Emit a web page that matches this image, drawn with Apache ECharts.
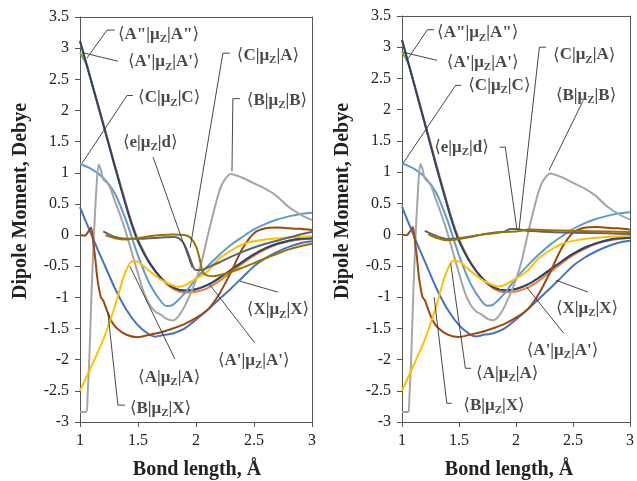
<!DOCTYPE html>
<html><head><meta charset="utf-8">
<script src="https://cdn.jsdelivr.net/npm/echarts@6/dist/echarts.min.js"></script>
<style>html,body{margin:0;padding:0;background:#fff}#c{width:637px;height:481px}</style>
</head><body><div id="c"></div>
<script>
// ---------- tick labels ----------
const xTicks = [1, 1.5, 2, 2.5, 3];
const yTicks = [-3, -2.5, -2, -1.5, -1, -0.5, 0, 0.5, 1, 1.5, 2, 2.5, 3, 3.5];

// ---------- curves shared by both panels ([bond length, dipole]) ----------
const curveXX = [[1.0,0.45],[1.05,0.22],[1.1,0.0],[1.15,-0.22],[1.2,-0.43],[1.3,-0.85],[1.4,-1.2],[1.5,-1.45],[1.6,-1.6],[1.65,-1.63],[1.7,-1.61],[1.8,-1.58],[1.9,-1.5],[2.0,-1.36],[2.1,-1.2],[2.2,-1.03],[2.3,-0.86],[2.4,-0.68],[2.5,-0.5],[2.6,-0.37],[2.7,-0.27],[2.8,-0.19],[2.9,-0.13],[3.0,-0.1]];
const curveApAp2 = [[1.0,3.1],[1.1,2.46],[1.2,1.8],[1.3,1.13],[1.4,0.48],[1.45,0.18],[1.5,-0.07],[1.6,-0.44],[1.7,-0.7],[1.8,-0.86],[1.9,-0.92],[2.0,-0.91],[2.1,-0.85],[2.2,-0.74],[2.3,-0.6],[2.4,-0.46],[2.5,-0.33],[2.6,-0.23],[2.7,-0.15],[2.8,-0.1],[2.9,-0.07],[3.0,-0.05]];
const curveBB = [[1.0,-2.84],[1.055,-2.84],[1.065,-2.6],[1.08,-2.0],[1.1,-0.9],[1.12,0.0],[1.14,0.7],[1.16,1.13],[1.18,1.05],[1.2,0.9],[1.25,0.8],[1.3,0.55],[1.35,0.3],[1.4,0.02],[1.45,-0.3],[1.5,-0.62],[1.55,-0.92],[1.6,-1.12],[1.65,-1.23],[1.7,-1.28],[1.75,-1.35],[1.8,-1.37],[1.85,-1.3],[1.9,-1.15],[1.95,-0.95],[2.0,-0.72],[2.05,-0.42],[2.1,-0.02],[2.16,0.43],[2.22,0.8],[2.3,0.98],[2.4,0.92],[2.5,0.83],[2.6,0.74],[2.7,0.62],[2.8,0.45],[2.9,0.33],[3.0,0.24]];
const curveAA = [[1.0,-2.5],[1.1,-2.1],[1.2,-1.68],[1.3,-1.15],[1.38,-0.65],[1.45,-0.42],[1.5,-0.43],[1.6,-0.58],[1.7,-0.72],[1.8,-0.81],[1.85,-0.83],[1.9,-0.81],[2.0,-0.7],[2.05,-0.65],[2.1,-0.58],[2.2,-0.38],[2.3,-0.25],[2.4,-0.15],[2.5,-0.1],[2.6,-0.07],[2.8,-0.04],[3.0,-0.02]];
const curveCC = [[1.0,1.14],[1.1,1.06],[1.2,0.92],[1.3,0.67],[1.4,0.22],[1.5,-0.33],[1.6,-0.78],[1.7,-1.07],[1.75,-1.14],[1.8,-1.12],[1.9,-0.94],[2.0,-0.7],[2.1,-0.5],[2.2,-0.32],[2.3,-0.16],[2.4,-0.03],[2.5,0.09],[2.6,0.18],[2.7,0.25],[2.8,0.3],[2.9,0.34],[3.0,0.36]];
const curveApAp1 = [[1.0,2.93],[1.03,2.83],[1.06,2.72],[1.1,2.45],[1.2,1.78],[1.3,1.1],[1.4,0.45],[1.45,0.15],[1.5,-0.1],[1.6,-0.45],[1.7,-0.69],[1.8,-0.84],[1.9,-0.89],[2.0,-0.87],[2.1,-0.8],[2.2,-0.69],[2.3,-0.56],[2.4,-0.43],[2.5,-0.31],[2.6,-0.21],[2.7,-0.14],[2.8,-0.09],[2.9,-0.06],[3.0,-0.05]];
const curveAppApp = [[1.0,3.12],[1.1,2.45],[1.2,1.78],[1.3,1.1],[1.4,0.45],[1.45,0.15],[1.5,-0.1],[1.6,-0.45],[1.7,-0.69],[1.8,-0.84],[1.9,-0.89],[2.0,-0.87],[2.1,-0.8],[2.2,-0.69],[2.3,-0.56],[2.4,-0.43],[2.5,-0.31],[2.6,-0.21],[2.7,-0.14],[2.8,-0.09],[2.9,-0.06],[3.0,-0.05]];
const curveBX = [[1.0,0.0],[1.04,-0.01],[1.07,0.05],[1.095,0.12],[1.11,-0.05],[1.13,-0.35],[1.15,-0.7],[1.18,-1.0],[1.2,-1.05],[1.23,-1.2],[1.27,-1.38],[1.32,-1.5],[1.4,-1.6],[1.5,-1.64],[1.6,-1.6],[1.7,-1.56],[1.8,-1.5],[1.9,-1.43],[2.0,-1.33],[2.1,-1.2],[2.2,-0.95],[2.3,-0.6],[2.4,-0.22],[2.5,0.03],[2.6,0.11],[2.7,0.12],[2.8,0.11],[2.9,0.1],[3.0,0.08]];

// ---------- curves that differ between panels ----------
const curveCA_left = [[1.2,0.06],[1.3,-0.03],[1.4,-0.06],[1.5,-0.06],[1.6,-0.05],[1.7,-0.04],[1.8,-0.03],[1.85,-0.05],[1.9,-0.15],[1.95,-0.38],[1.98,-0.53],[2.0,-0.56],[2.05,-0.56],[2.1,-0.52],[2.2,-0.44],[2.3,-0.35],[2.4,-0.27],[2.5,-0.2],[2.6,-0.14],[2.7,-0.09],[2.8,-0.04],[2.9,0.01],[3.0,0.05]];
const curveED_left = [[1.22,0.0],[1.3,-0.05],[1.4,-0.07],[1.5,-0.05],[1.6,-0.02],[1.7,0.0],[1.8,0.01],[1.9,0.0],[1.95,-0.04],[2.0,-0.18],[2.03,-0.37],[2.06,-0.6],[2.1,-0.65],[2.15,-0.66],[2.25,-0.62],[2.35,-0.56],[2.5,-0.45],[2.6,-0.37],[2.7,-0.3],[2.8,-0.23],[2.9,-0.18],[3.0,-0.14]];
const curveCA_right = [[1.2,0.06],[1.3,-0.02],[1.4,-0.07],[1.5,-0.06],[1.6,-0.03],[1.7,0.0],[1.8,0.03],[1.9,0.05],[1.95,0.09],[2.0,0.09],[2.05,0.08],[2.1,0.06],[2.3,0.04],[2.5,0.03],[2.8,0.02],[3.0,0.01]];
const curveED_right = [[1.23,0.01],[1.3,-0.05],[1.4,-0.09],[1.5,-0.07],[1.6,-0.04],[1.7,0.0],[1.8,0.02],[1.9,0.04],[2.0,0.05],[2.05,0.06],[2.1,0.08],[2.3,0.07],[2.5,0.06],[2.8,0.05],[3.0,0.04]];

// ---------- label texts (bra, ket) ----------
const labelKets = [['A"','A"'],["A'","A'"],['C','C'],['e','d'],['C','A'],['B','B'],['X','X'],["A'","A'"],['A','A'],['B','X']];
// label anchors (left-middle of text), data coordinates
const labelPosLeft  = [[1.327,3.22],[1.413,2.78],[1.50,2.20],[1.37,1.49],[2.352,2.885],[2.438,2.16],[2.438,-1.2],[2.189,-2.01],[1.50,-2.28],[1.43,-2.78]];
const labelPosRight = [[1.308,3.23],[1.393,2.76],[1.581,2.39],[1.282,1.40],[2.325,2.875],[2.35,2.23],[2.35,-1.18],[2.094,-1.85],[1.65,-2.22],[1.538,-2.73]];
// leader line paths, data coordinates
const leaderLeft = [
  [[1.06,2.84],[1.233,3.29],[1.30,3.29]],
  [[1.017,2.93],[1.327,2.79]],
  [[1.017,1.15],[1.405,2.24],[1.456,2.24]],
  [[1.63,1.25],[1.965,-0.52]],
  [[1.95,-0.2],[2.232,2.92],[2.292,2.92]],
  [[2.31,1.02],[2.318,2.19],[2.378,2.19]],
  [[2.705,-0.915],[2.378,-0.74]],
  [[2.507,-1.73],[2.12,-0.8]],
  [[1.818,-1.99],[1.43,-0.5]],
  [[1.24,-1.24],[1.327,-2.73],[1.388,-2.73]]
];
const leaderRight = [
  [[1.043,2.79],[1.222,3.28],[1.282,3.28]],
  [[1.009,2.92],[1.308,2.79]],
  [[1.009,1.14],[1.47,2.39],[1.52,2.39]],
  [[1.855,1.40],[1.906,1.40],[2.009,0.07]],
  [[2.026,0.07],[2.205,3.0],[2.265,3.0]],
  [[2.29,1.03],[2.59,2.15]],
  [[2.632,-0.92],[2.35,-0.73]],
  [[2.419,-1.58],[2.094,-0.84]],
  [[1.427,-0.46],[1.556,-2.14],[1.607,-2.14]],
  [[1.282,-1.0],[1.393,-2.7],[1.436,-2.7]]
];

const SERIF = '"Liberation Serif","DejaVu Serif",serif';
const colors = {XX:'#4472C4', ApAp2:'#ED7D31', BB:'#A5A5A5', AA:'#FFC000', CC:'#5B9BD5', ApAp1:'#70AD47', AppApp:'#264478', BX:'#9E480E', CA:'#636363', ED:'#997300'};

function fmtLabel(k){
  return '{br|\u27E8}{b|' + k[0] + '|\u03BC}{s|Z}{b||' + k[1] + '}{br|\u27E9}';
}
const rich = {
  b:{fontFamily:SERIF, fontWeight:'bold', fontSize:17, color:'#1a1a1a', lineHeight:21},
  br:{fontFamily:SERIF, fontWeight:'normal', fontSize:17, color:'#1a1a1a', lineHeight:21},
  s:{fontFamily:SERIF, fontWeight:'bold', fontSize:11, color:'#1a1a1a', lineHeight:12, verticalAlign:'bottom'}
};

function panelSeries(idx, caCurve, edCurve, pos, leaders){
  const list = [];
  const curves = [
    ['ApAp1', curveApAp1], ['ApAp2', curveApAp2], ['AppApp', curveAppApp],
    ['CC', curveCC], ['BB', curveBB], ['XX', curveXX], ['BX', curveBX],
    ['AA', curveAA], ['CA', caCurve], ['ED', edCurve]
  ];
  curves.forEach(([k, d]) => {
    list.push({type:'line', xAxisIndex:idx, yAxisIndex:idx, data:d, showSymbol:false, symbol:'none',
      smooth:0.25, lineStyle:{color:colors[k], width:2}, silent:true, z:2});
  });
  leaders.forEach(p => {
    list.push({type:'line', xAxisIndex:idx, yAxisIndex:idx, data:p, symbol:'none', silent:true,
      lineStyle:{color:'#333', width:0.9}, z:3});
  });
  list.push({type:'scatter', xAxisIndex:idx, yAxisIndex:idx, symbolSize:0, silent:true, z:4,
    data: pos.map((p,i) => ({value:p, label:{show:true, position:'right', distance:0, formatter:fmtLabel(labelKets[i]), rich:rich}}))});
  return list;
}

function lab(arr){ return v => { const t = arr.find(a => Math.abs(a-v)<1e-9); return t===undefined?'':String(t);}; }
function xAx(g){
  return {type:'value', gridIndex:g, min:1, max:3, interval:0.5,
    axisLine:{show:true, onZero:false, lineStyle:{color:'#555', width:1}},
    axisTick:{show:true, length:5, lineStyle:{color:'#555'}},
    splitLine:{show:false},
    axisLabel:{fontFamily:SERIF, fontSize:16, color:'#222', margin:11, formatter:lab(xTicks)}};
}
function yAx(g){
  return {type:'value', gridIndex:g, min:-3, max:3.5, interval:0.5,
    axisLine:{show:true, onZero:false, lineStyle:{color:'#555', width:1}},
    axisTick:{show:true, length:5, lineStyle:{color:'#555'}},
    splitLine:{show:false},
    axisLabel:{fontFamily:SERIF, fontSize:16, color:'#222', margin:11, formatter:lab(yTicks)}};
}
function frameX(g){ return {type:'value', gridIndex:g, min:1, max:3, position:'top', axisLine:{show:true, onZero:false, lineStyle:{color:'#555'}}, axisTick:{show:false}, axisLabel:{show:false}, splitLine:{show:false}}; }
function frameY(g){ return {type:'value', gridIndex:g, min:-3, max:3.5, position:'right', axisLine:{show:true, onZero:false, lineStyle:{color:'#555'}}, axisTick:{show:false}, axisLabel:{show:false}, splitLine:{show:false}}; }

const chart = echarts.init(document.getElementById('c'), null, {renderer:'canvas'});
const titleStyle = {fontFamily:SERIF, fontWeight:'bold', fontSize:20, fill:'#222', textAlign:'center', textVerticalAlign:'middle'};
chart.setOption({
  animation:false,
  backgroundColor:'#fff',
  grid:[
    {left:80, right:325, top:17, bottom:59},
    {left:402, right:1, top:16, bottom:59}
  ],
  xAxis:[xAx(0), xAx(1), frameX(0), frameX(1)],
  yAxis:[yAx(0), yAx(1), frameY(0), frameY(1)],
  series:[].concat(
    panelSeries(0, curveCA_left, curveED_left, labelPosLeft, leaderLeft),
    panelSeries(1, curveCA_right, curveED_right, labelPosRight, leaderRight)
  ),
  graphic:[
    {type:'text', x:21, y:201, rotation:Math.PI/2, style:Object.assign({text:'Dipole Moment, Debye'}, titleStyle)},
    {type:'text', x:343, y:201, rotation:Math.PI/2, style:Object.assign({text:'Dipole Moment, Debye'}, titleStyle)},
    {type:'text', x:197, y:470, style:Object.assign({text:'Bond length, \u00C5'}, titleStyle)},
    {type:'text', x:509, y:470, style:Object.assign({text:'Bond length, \u00C5'}, titleStyle)}
  ]
});
</script></body></html>
